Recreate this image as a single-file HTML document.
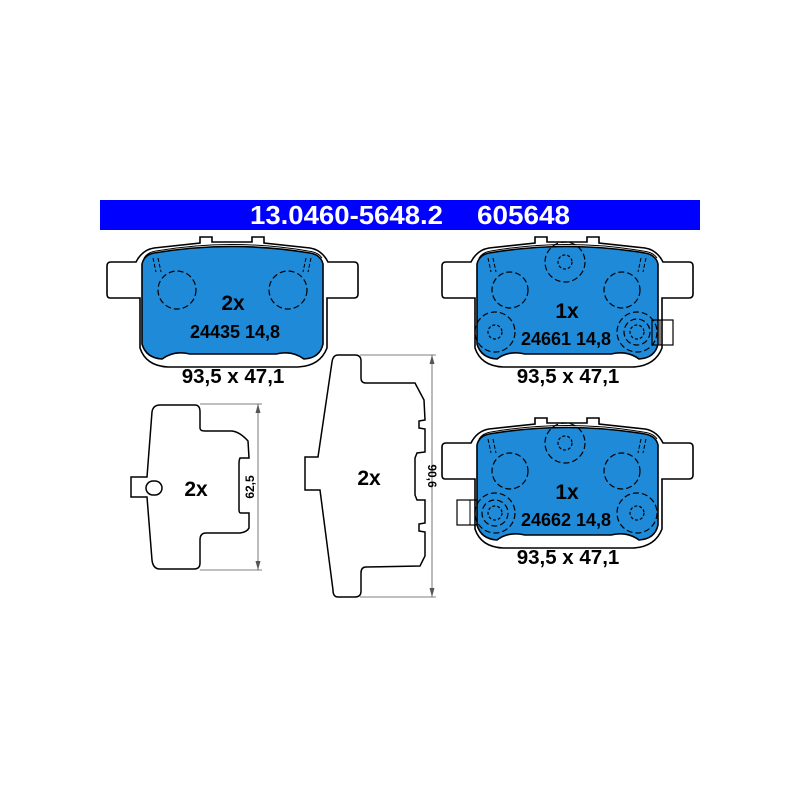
<!DOCTYPE html>
<html><head><meta charset="utf-8"><style>html,body{margin:0;padding:0;background:#fff}svg{display:block}</style></head>
<body>
<svg width="800" height="800" viewBox="0 0 800 800" xmlns="http://www.w3.org/2000/svg" font-family="Liberation Sans, Arial, sans-serif">
<rect width="800" height="800" fill="#fff"/>
<rect x="100" y="200" width="600" height="30" fill="#0000ff"/>
<text x="250" y="224" font-size="26" font-weight="bold" fill="#fff" textLength="193" lengthAdjust="spacingAndGlyphs">13.0460-5648.2</text>
<text x="477" y="224" font-size="26" font-weight="bold" fill="#fff" textLength="93" lengthAdjust="spacingAndGlyphs">605648</text>

<defs>
<g id="pad">
<path d="M140,298 L110,298 Q107,298 107,294 L107,266 Q107,262 111,262 L136,262 Q142,250 154,248 L200,243 L200,237 L212,237 L212,242 L252,242 L252,237 L264,237 L264,243 L310,248 Q322,250 328,262 L354,262 Q358,262 358,266 L358,294 Q358,298 354,298 L327,298 L327,348 Q320,366 298,367 L168,367 Q146,366 140,348 Z" fill="#fff" stroke="#000" stroke-width="1.6"/>
<path d="M144,258 Q148,252 156,251 Q232,238 308,251 Q318,252 322,258" fill="none" stroke="#000" stroke-width="1"/>
<path d="M142,264 Q144,255 154,253 Q232,240 310,253 Q321,255 323,264 L323,344 Q320,358 304,359 Q292,350 276,354 L190,354 Q174,350 162,359 Q146,358 142,344 Z" fill="#1f8ad8" stroke="#000" stroke-width="1.6"/>
<path d="M153,258 L156,272 M158,258 L161,272 M306,258 L303,272 M311,258 L308,272" stroke="#000" stroke-width="1" stroke-dasharray="4,2"/>
</g>
</defs>

<use href="#pad"/>
<circle cx="177" cy="290" r="19" fill="none" stroke="#000" stroke-width="1.2" stroke-dasharray="6,3"/>
<circle cx="288" cy="290" r="19" fill="none" stroke="#000" stroke-width="1.2" stroke-dasharray="6,3"/>
<text x="233" y="310" font-size="21" font-weight="bold" text-anchor="middle">2x</text>
<text x="235" y="338" font-size="18" font-weight="bold" text-anchor="middle">24435 14,8</text>
<text x="233" y="383" font-size="20.5" font-weight="bold" text-anchor="middle">93,5 x 47,1</text>

<use href="#pad" transform="translate(335,0)"/>
<g fill="none" stroke="#000" stroke-width="1.2" stroke-dasharray="6,3">
<circle cx="510" cy="290" r="18"/><circle cx="622" cy="290" r="18"/>
<circle cx="565" cy="262" r="20"/><circle cx="565" cy="262" r="7" stroke-dasharray="3,2"/>
<circle cx="495" cy="332" r="20"/><circle cx="495" cy="332" r="7" stroke-dasharray="3,2"/>
<circle cx="637" cy="332" r="20"/><circle cx="637" cy="332" r="13"/><circle cx="637" cy="332" r="7" stroke-dasharray="3,2"/>
</g>
<rect x="652" y="320" width="21" height="25" fill="none" stroke="#000" stroke-width="1.2"/>
<line x1="660" y1="320" x2="660" y2="345" stroke="#000"/>
<text x="567" y="318" font-size="21" font-weight="bold" text-anchor="middle">1x</text>
<text x="566" y="345" font-size="18" font-weight="bold" text-anchor="middle">24661 14,8</text>
<text x="568" y="383" font-size="20.5" font-weight="bold" text-anchor="middle">93,5 x 47,1</text>

<use href="#pad" transform="translate(335,181)"/>
<g fill="none" stroke="#000" stroke-width="1.2" stroke-dasharray="6,3">
<circle cx="510" cy="471" r="18"/><circle cx="622" cy="471" r="18"/>
<circle cx="565" cy="443" r="20"/><circle cx="565" cy="443" r="7" stroke-dasharray="3,2"/>
<circle cx="495" cy="513" r="20"/><circle cx="495" cy="513" r="13"/><circle cx="495" cy="513" r="7" stroke-dasharray="3,2"/>
<circle cx="637" cy="513" r="20"/><circle cx="637" cy="513" r="7" stroke-dasharray="3,2"/>
</g>
<rect x="457" y="500" width="20" height="25" fill="none" stroke="#000" stroke-width="1.2"/>
<line x1="470" y1="500" x2="470" y2="525" stroke="#000"/>
<text x="567" y="499" font-size="21" font-weight="bold" text-anchor="middle">1x</text>
<text x="566" y="526" font-size="18" font-weight="bold" text-anchor="middle">24662 14,8</text>
<text x="568" y="564" font-size="20.5" font-weight="bold" text-anchor="middle">93,5 x 47,1</text>

<!-- small shim -->
<path d="M160,405 L195,405 Q200,405 200,412 L200,428 Q200,431 205,431 L232,431 Q240,432 248,441 L249,458 L240,458 Q239,460 239,463 L239,510 Q239,513 241,513 L249,513 L249,528 Q247,532 240,533 L206,533 Q200,533 200,540 L200,563 Q200,569 194,569 L160,569 Q153,569 152,560 L147,497 L131,497 L131,477 L147,477 L152,412 Q153,405 160,405 Z" fill="#fff" stroke="#000" stroke-width="1.5"/>
<rect x="146" y="481" width="16" height="14" rx="7" fill="none" stroke="#000" stroke-width="1.5"/>
<text x="196" y="496" font-size="21" font-weight="bold" text-anchor="middle">2x</text>
<line x1="200" y1="404" x2="262" y2="404" stroke="#555" stroke-width="0.8"/>
<line x1="200" y1="570" x2="262" y2="570" stroke="#555" stroke-width="0.8"/>
<line x1="258" y1="404" x2="258" y2="570" stroke="#555" stroke-width="0.8"/>
<path d="M258,404 l-2.5,9 h5 z M258,570 l-2.5,-9 h5 z" fill="#555"/>
<text transform="translate(254,487) rotate(-90)" font-size="12" font-weight="bold" text-anchor="middle">62,5</text>

<!-- big shim -->
<path d="M338,355 L355,355 Q361,355 361,361 L361,378 Q361,383 366,383 L415,383 L424,400 L425,420 L419,421 L419,428 L425,429 L425,452 L417,453 L415,458 L415,495 L417,500 L425,500 L425,523 L419,524 L419,531 L425,532 L425,556 L420,566 L366,567 Q361,567 361,573 L361,591 Q361,597 355,597 L338,597 Q333,597 333,590 L320,490 L305,490 L305,457 L318,457 L332,362 Q333,355 338,355 Z" fill="#fff" stroke="#000" stroke-width="1.5"/>
<text x="369" y="485" font-size="21" font-weight="bold" text-anchor="middle">2x</text>
<line x1="360" y1="355" x2="436" y2="355" stroke="#555" stroke-width="0.8"/>
<line x1="360" y1="597" x2="436" y2="597" stroke="#555" stroke-width="0.8"/>
<line x1="432" y1="355" x2="432" y2="597" stroke="#555" stroke-width="0.8"/>
<path d="M432,355 l-2.5,9 h5 z M432,597 l-2.5,-9 h5 z" fill="#555"/>
<text transform="translate(428,476) rotate(90)" font-size="12" font-weight="bold" text-anchor="middle">90,6</text>
</svg>
</body></html>
